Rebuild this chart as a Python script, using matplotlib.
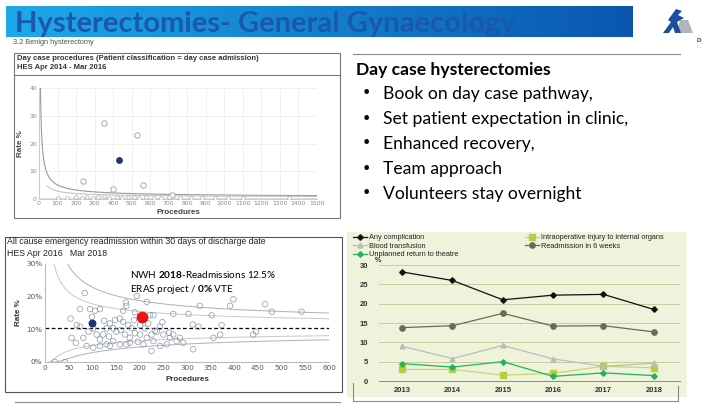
import numpy as np
import matplotlib
matplotlib.use("Agg")
import matplotlib.pyplot as plt
from matplotlib.colors import to_rgb
from matplotlib.patches import Rectangle, Polygon

plt.rcParams['mathtext.fontset'] = 'custom'
plt.rcParams['mathtext.rm'] = 'Lato'
plt.rcParams['mathtext.bf'] = 'Lato:bold'

# ---------------- data ----------------
title = "Hysterectomies- General Gynaecology"
subtitle = "3.2 Benign hysterectomy"

# top-left funnel: day case rates
dc_title1 = "Day case procedures (Patient classification = day case admission)"
dc_title2 = "HES Apr 2014 - Mar 2016"
dc_proc = [350, 530, 240, 400, 560, 720, 100, 150, 200, 230, 260, 290, 320, 350, 380,
           420, 450, 480, 510, 540, 580, 620, 660, 700, 760, 820, 880, 950, 1020, 1100, 1350]
dc_rate = [27.5, 23.0, 6.5, 3.5, 5.0, 1.5, 0.5, 0.3, 0.8, 0.4, 0.6, 0.2, 0.7, 1.0, 0.5,
           0.8, 0.3, 0.6, 0.9, 0.4, 0.7, 0.5, 0.3, 0.6, 0.4, 0.5, 0.3, 0.4, 0.3, 0.4, 0.3]
dc_nwh = (430, 14.0)
dc_mean = 0.5  # % average day case rate

# bottom-left funnel: readmissions
ra_title1 = "All cause emergency readmission within 30 days of discharge date"
ra_title2 = "HES Apr 2016   Mar 2018"
ra_proc = [84, 54, 74, 67, 74, 56, 65, 81, 95, 106, 116, 99, 92, 102, 109, 116, 123, 130, 137, 144,
           88, 102, 116, 130, 151, 144, 137, 158, 165, 172, 171, 165, 176, 183, 169, 179, 190, 158,
           172, 179, 194, 190, 215, 201, 211, 218, 201, 215, 225, 222, 229, 208, 229, 225, 236, 243,
           250, 243, 257, 264, 271, 285, 292, 271, 278, 303, 312, 324, 313, 327, 352, 356, 370, 373,
           391, 398, 440, 446, 465, 479, 542, 21, 42, 125, 135, 148, 160, 188, 196, 232, 248, 262]
ra_rate = [21.1, 13.3, 16.2, 11.3, 10.8, 7.4, 5.9, 7.4, 16.2, 15.7, 16.2, 13.8, 9.3, 10.3, 8.4, 6.9,
           8.4, 10.3, 11.8, 10.3, 4.9, 4.4, 4.9, 5.4, 9.3, 6.4, 4.9, 13.3, 15.7, 17.2, 18.2, 12.3, 11.3,
           10.3, 8.4, 7.4, 8.8, 5.4, 5.4, 5.9, 20.2, 15.2, 18.4, 11.3, 10.3, 11.8, 8.4, 7.4, 8.4, 14.3,
           14.3, 5.4, 6.4, 3.4, 9.3, 10.8, 8.4, 4.9, 5.4, 7.4, 14.7, 7.4, 5.9, 8.4, 6.4, 14.7, 11.5,
           10.8, 3.9, 17.2, 14.3, 7.4, 8.4, 11.3, 17.2, 19.2, 8.4, 9.3, 17.7, 15.4, 15.4, 0.0, 0.0,
           12.6, 7.8, 12.9, 9.8, 12.8, 6.2, 9.6, 12.2, 9.0]
ra_nwh = (100, 12.0)
ra_nwh2018 = (205, 13.8)
ra_mean = 10.5
ra_note1 = r"NWH $\bf{2018}$-Readmissions 12.5%"
ra_note2 = r"ERAS project / $\bf{0\%}$ VTE"

# bottom-right trends
years = ["2013", "2014", "2015", "2016", "2017", "2018"]
any_comp = [28.2, 26.0, 21.0, 22.2, 22.4, 18.5]
intraop = [3.0, 3.0, 1.5, 2.0, 3.8, 3.4]
blood = [9.0, 5.8, 9.2, 5.7, 3.8, 4.6]
readmit6 = [13.8, 14.3, 17.5, 14.2, 14.3, 12.7]
unplanned = [4.5, 3.6, 5.0, 1.2, 2.1, 1.4]

bullet_head = "Day case hysterectomies"
bullets = ["Book on day case pathway,", "Set patient expectation in clinic,",
           "Enhanced recovery,", "Team approach", "Volunteers stay overnight"]

# ---------------- figure ----------------
W, H = 720, 405
fig = plt.figure(figsize=(7.2, 4.05), dpi=100)
fig.patch.set_facecolor("white")

def ax_px(x0, y0, x1, y1):
    return fig.add_axes([x0 / W, 1 - y1 / H, (x1 - x0) / W, (y1 - y0) / H])

def ftext(x, y, s, **kw):
    return fig.text(x / W, 1 - y / H, s, **kw)

bg = fig.add_axes([0, 0, 1, 1])
bg.set_xlim(0, W)
bg.set_ylim(H, 0)
bg.axis("off")

# banner gradient
c0 = np.array(to_rgb("#1ea9ea"))
c1 = np.array(to_rgb("#0a56ae"))
t = np.linspace(0, 1, 256)[None, :, None]
grad = c0 * (1 - t) + c1 * t
bg.imshow(grad, extent=(6, 633, 37, 6), aspect="auto", zorder=1)
bg.text(15, 32, title, fontsize=21, fontweight="bold", family="Lato",
        color="#1a58b0", va="baseline", ha="left", zorder=2)
bg.text(13, 43, subtitle, fontsize=5.3, family="Liberation Sans", color="#555555",
        va="center", ha="left")

# logo
bg.add_patch(Polygon([(677, 33), (693, 33), (688, 20), (680, 20)], closed=True,
                     fc="#b4b4b4", ec="none"))
bg.add_patch(Polygon([(663, 33), (671, 22), (668, 20), (676, 9), (682, 11), (678, 15),
                      (684, 18), (677, 22), (681, 33), (675, 33), (673, 27), (669, 33)],
                     closed=True, fc="#1a4fa0", ec="none"))
bg.text(697, 41, "D", fontsize=4.5, family="Liberation Sans", fontweight="bold",
        color="#1a3f80", va="center")
bg.text(697, 47, ": .", fontsize=3.5, family="Liberation Sans", color="#1a3f80", va="center")

# rules
bg.plot([353, 680], [53.5, 53.5], color="#888888", lw=0.8)
bg.plot([15, 340], [402, 402], color="#888888", lw=0.8)

# panel frames
bg.add_patch(Rectangle((14, 53), 326, 165, fill=False, ec="#777777", lw=0.8))
bg.plot([14, 340], [75, 75], color="#777777", lw=0.8)
bg.text(17, 59, dc_title1, fontsize=5.5, family="Liberation Sans", fontweight="bold",
        color="#333333", va="center")
bg.text(17, 67.5, dc_title2, fontsize=5.5, family="Liberation Sans", fontweight="bold",
        color="#333333", va="center")

bg.add_patch(Rectangle((5, 237), 337, 155, fill=False, ec="#555555", lw=0.8))
bg.text(7, 242, ra_title1, fontsize=6.3, family="Liberation Sans", color="#222222", va="center")
bg.text(7, 253, ra_title2, fontsize=6.3, family="Liberation Sans", color="#222222", va="center")

# bottom-right green background and frame
bg.add_patch(Rectangle((347, 232), 340, 165, fc="#eff3dc", ec="none"))
bg.plot([353, 353, 678, 678], [383, 401, 401, 386], color="#888888", lw=0.8)

# bullets text
bg.text(356, 70, bullet_head, fontsize=12.6, family="Lato", fontweight="bold",
        color="black", va="center")
for i, b in enumerate(bullets):
    y = 94 + 25 * i
    bg.text(366, y, "\u2022", fontsize=11.5, family="DejaVu Sans", color="black",
            va="center", ha="center")
    bg.text(383, y, b, fontsize=12.6, family="Lato", color="black", va="center")

# ---------------- top-left funnel ----------------
ax1 = ax_px(39, 88, 317, 199)
ax1.set_facecolor("none")
ax1.set_xlim(0, 1500)
ax1.set_ylim(0, 40)
ax1.set_xticks(range(0, 1501, 100))
ax1.set_yticks([0, 10, 20, 30, 40])
ax1.grid(True, color="#eeeeee", lw=0.6)
ax1.set_axisbelow(True)
for s in ["top", "right"]:
    ax1.spines[s].set_visible(False)
ax1.spines["left"].set_color("#cccccc")
ax1.spines["bottom"].set_color("#cccccc")
ax1.tick_params(labelsize=4.4, colors="#888888", length=0, pad=1.5)
ax1.set_xlabel("Procedures", fontsize=5.8, fontweight="bold", color="#444444",
               family="Liberation Sans", labelpad=2)
ax1.set_ylabel("Rate %", fontsize=5.8, fontweight="bold", color="#444444",
               family="Liberation Sans", labelpad=4)
p = dc_mean / 100
n_out = np.linspace(5, 1500, 400)
ax1.plot(n_out, 100 * (np.sqrt(p) + 3.09 / (2 * np.sqrt(n_out))) ** 2, color="#9a9a9a", lw=0.8)
n_in = np.linspace(45, 1500, 400)
ax1.plot(n_in, 100 * (np.sqrt(p) + 1.96 / (2 * np.sqrt(n_in))) ** 2, color="#c4c4c4", lw=0.8)
ax1.axhline(dc_mean, color="#dddddd", lw=0.6)
ax1.scatter(dc_proc[:6], dc_rate[:6], s=15, facecolors="white", edgecolors="#999999",
            linewidths=0.6, zorder=3)
ax1.scatter(dc_proc[6:], dc_rate[6:], s=7, facecolors="white", edgecolors="#a8a8b4",
            linewidths=0.5, zorder=3)
ax1.scatter([dc_nwh[0]], [dc_nwh[1]], s=15, color="#1d3570", zorder=4)

# ---------------- bottom-left funnel ----------------
ax2 = ax_px(45, 264, 329, 362)
ax2.set_facecolor("none")
ax2.set_xlim(0, 600)
ax2.set_ylim(0, 30)
ax2.set_xticks(range(0, 601, 50))
ax2.set_yticks([0, 10, 20, 30])
ax2.set_yticklabels(["0%", "10%", "20%", "30%"])
for s in ["top", "right"]:
    ax2.spines[s].set_visible(False)
ax2.spines["left"].set_color("#bbbbbb")
ax2.spines["bottom"].set_color("#bbbbbb")
ax2.tick_params(labelsize=5.2, colors="#555555", length=0, pad=2)
ax2.set_xlabel("Procedures", fontsize=5.8, fontweight="bold", color="#333333",
               family="Liberation Sans", labelpad=4)
ax2.set_ylabel("Rate %", fontsize=5.8, fontweight="bold", color="#333333",
               family="Liberation Sans", labelpad=3)
q = ra_mean / 100
n2 = np.linspace(8, 600, 400)
for z, col in [(3.09, "#b0b0b0"), (1.96, "#c8c8c8")]:
    ax2.plot(n2, 100 * (np.sqrt(q) + z / (2 * np.sqrt(n2))) ** 2, color=col, lw=0.7)
    lo = np.sqrt(q) - z / (2 * np.sqrt(n2))
    lo = np.where(lo > 0, lo, 0)
    ax2.plot(n2, 100 * lo ** 2, color=col, lw=0.7)
ax2.axhline(ra_mean, color="black", lw=0.9, ls=(0, (3, 2)))
ax2.scatter(ra_proc, ra_rate, s=16, facecolors="none", edgecolors="#8a96a8",
            linewidths=0.5, zorder=3)
ax2.scatter([ra_nwh[0]], [ra_nwh[1]], s=22, color="#1d3570", zorder=4)
ax2.scatter([ra_nwh2018[0]], [ra_nwh2018[1]], s=55, color="#ee1111", zorder=4)
ftext(130, 275, ra_note1, fontsize=7.2, family="Lato", color="black", va="center", zorder=10)
ftext(130, 290, ra_note2, fontsize=7.2, family="Lato", color="black", va="center", zorder=10)

# ---------------- bottom-right trends ----------------
ax3 = ax_px(379, 265, 680, 381)
ax3.set_facecolor("none")
xi = np.arange(len(years))
ax3.set_xlim(-0.46, 5.52)
ax3.set_ylim(0, 30)
ax3.set_yticks(range(0, 31, 5))
ax3.set_xticks(xi)
ax3.set_xticklabels(years)
ax3.yaxis.grid(True, color="#c9cc9e", lw=0.7)
ax3.set_axisbelow(True)
for s in ["top", "right", "left"]:
    ax3.spines[s].set_visible(False)
ax3.spines["bottom"].set_color("#777777")
ax3.spines["bottom"].set_linewidth(0.6)
ax3.tick_params(axis="y", length=0, labelsize=5.5, colors="#333333", pad=8)
ax3.tick_params(axis="x", length=0, labelsize=5.5, colors="#333333", pad=4)
for lab in ax3.get_xticklabels() + ax3.get_yticklabels():
    lab.set_fontweight("bold")
    lab.set_family("Liberation Sans")
bg.text(375, 261, "%", fontsize=5.3, family="Liberation Sans", fontweight="bold",
        color="#333333", va="center")

l_any, = ax3.plot(xi, any_comp, color="#111111", marker="D", ms=2.8, lw=0.9,
                  label="Any complication")
l_int, = ax3.plot(xi, intraop, color="#c6d668", marker="s", mfc="#b8cc40", mec="#b8cc40",
                  ms=4, lw=0.9, label="Intraoperative injury to internal organs")
l_bld, = ax3.plot(xi, blood, color="#bdbdb5", marker="^", ms=3.5, lw=0.9,
                  label="Blood transfusion")
l_re6, = ax3.plot(xi, readmit6, color="#6b6b50", marker="o", ms=3.8, lw=0.9,
                  label="Readmission in 6 weeks")
l_unp, = ax3.plot(xi, unplanned, color="#22b35a", marker="D", ms=2.8, lw=0.9,
                  label="Unplanned return to theatre")

leg = fig.legend([l_any, l_bld, l_unp, l_int, l_re6],
                 [h.get_label() for h in [l_any, l_bld, l_unp, l_int, l_re6]],
                 ncol=2, loc="upper left", bbox_to_anchor=(353 / W, 1 - 234 / H),
                 frameon=False, handlelength=1.9, handletextpad=0.3,
                 labelspacing=0.2, columnspacing=9.0, borderaxespad=0, borderpad=0,
                 prop={"family": "Liberation Sans", "size": 5.3})
for txt in leg.get_texts():
    txt.set_color("#222222")

fig.savefig("out.png", dpi=100)
